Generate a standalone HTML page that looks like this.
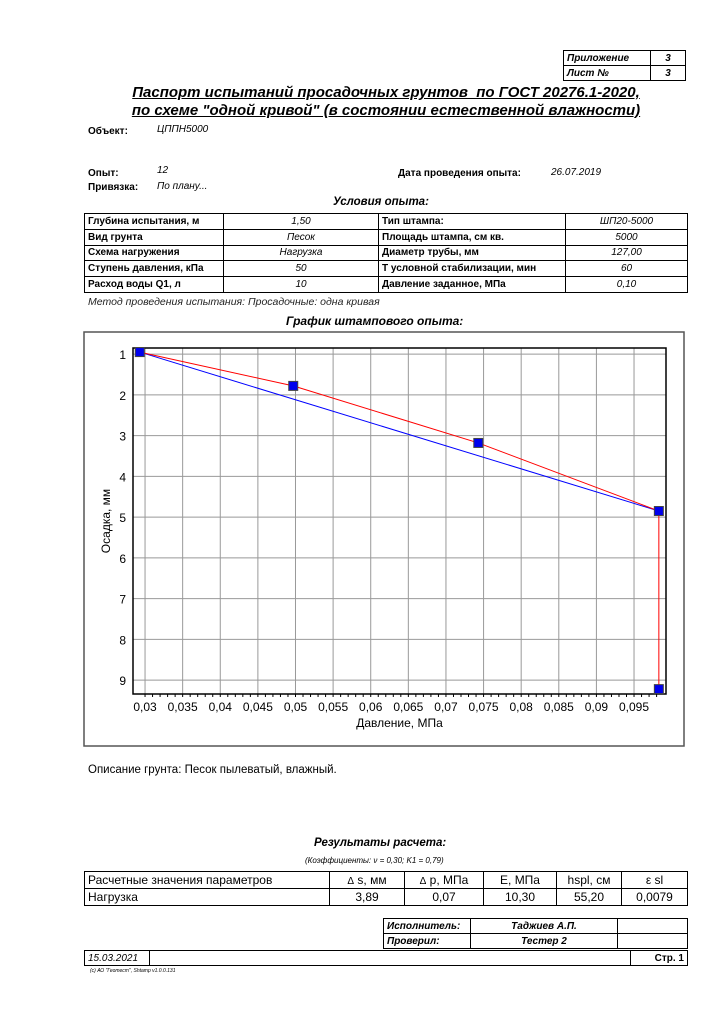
<!DOCTYPE html>
<html><head><meta charset="utf-8"><style>
body{margin:0;background:#fff;font-family:"Liberation Sans","DejaVu Sans",sans-serif;color:#000}
#page{position:relative;width:722px;height:1024px;overflow:hidden}
.a{position:absolute;white-space:nowrap}
.b{font-weight:bold;font-size:10px}
.i{font-style:italic;font-size:10px}
table{border-collapse:collapse;position:absolute}
td{border:1px solid #000;padding:0 3px;height:14px;font-size:9.5px}
#cond td{height:14.8px}
#res td{height:16px}
</style></head><body><div id="page">
<table style="left:563px;top:50px;width:123px">
<tr><td class="b i" style="width:80px;border-width:1.5px">Приложение</td><td class="b i" style="text-align:center;border-width:1.5px">3</td></tr>
<tr><td class="b i" style="border-width:1.5px">Лист №</td><td class="b i" style="text-align:center;border-width:1.5px">3</td></tr></table>
<div class="a" style="left:0;width:772px;top:84px;text-align:center;font-weight:bold;font-style:italic;font-size:15px;line-height:18px;text-decoration:underline">Паспорт испытаний просадочных грунтов &nbsp;по ГОСТ 20276.1-2020,<br>по схеме "одной кривой" (в состоянии естественной влажности)</div>
<div class="a b" style="left:88px;top:126px">Объект:</div>
<div class="a i" style="left:157px;top:124px">ЦППН5000</div>
<div class="a b" style="left:88px;top:168px">Опыт:</div>
<div class="a i" style="left:157px;top:165px">12</div>
<div class="a b" style="left:88px;top:182px">Привязка:</div>
<div class="a i" style="left:157px;top:181px">По плану...</div>
<div class="a b" style="left:398px;top:168px">Дата проведения опыта:</div>
<div class="a i" style="left:551px;top:167px">26.07.2019</div>
<div class="a" style="left:333px;top:196px;font-weight:bold;font-style:italic;font-size:11.5px">Условия опыта:</div>
<table id="cond" style="left:84px;top:213px;width:604px">
<tr><td class="b" style="width:132px">Глубина испытания, м</td><td class="i" style="text-align:center;width:148px">1,50</td><td class="b" style="width:180px">Тип штампа:</td><td class="i" style="text-align:center">ШП20-5000</td></tr>
<tr><td class="b">Вид грунта</td><td class="i" style="text-align:center">Песок</td><td class="b">Площадь штампа, см кв.</td><td class="i" style="text-align:center">5000</td></tr>
<tr><td class="b">Схема нагружения</td><td class="i" style="text-align:center">Нагрузка</td><td class="b">Диаметр трубы, мм</td><td class="i" style="text-align:center">127,00</td></tr>
<tr><td class="b">Ступень давления, кПа</td><td class="i" style="text-align:center">50</td><td class="b">T условной стабилизации, мин</td><td class="i" style="text-align:center">60</td></tr>
<tr><td class="b">Расход воды Q1, л</td><td class="i" style="text-align:center">10</td><td class="b">Давление заданное, МПа</td><td class="i" style="text-align:center">0,10</td></tr></table>
<div class="a" style="left:88px;top:296px;font-style:italic;font-size:10.5px;color:#222">Метод проведения испытания: Просадочные: одна кривая</div>
<div class="a" style="left:286px;top:314px;font-weight:bold;font-style:italic;font-size:12px">График штампового опыта:</div>
<svg class="a" style="left:0;top:0" width="722" height="1024" id="chart"></svg>
<div class="a" style="left:88px;top:764px;font-size:11.5px">Описание грунта: Песок пылеватый, влажный.</div>
<div class="a" style="left:314px;top:837px;font-weight:bold;font-style:italic;font-size:11.5px">Результаты расчета:</div>
<div class="a" style="left:305px;top:856px;font-style:italic;font-size:8px">(Коэффициенты: ν = 0,30; K1 = 0,79)</div>
<table id="res" style="left:84px;top:871px;width:604px;font-size:12px">
<tr><td style="width:238px;font-size:12px">Расчетные значения параметров</td><td style="text-align:center;width:68px;font-size:12px"><small>Δ</small> s, мм</td><td style="text-align:center;width:72px;font-size:12px"><small>Δ</small> p, МПа</td><td style="text-align:center;width:66px;font-size:12px">E, МПа</td><td style="text-align:center;width:58px;font-size:12px">hspl, см</td><td style="text-align:center;font-size:12px">ε sl</td></tr>
<tr><td style="font-size:12px">Нагрузка</td><td style="text-align:center;font-size:12px">3,89</td><td style="text-align:center;font-size:12px">0,07</td><td style="text-align:center;font-size:12px">10,30</td><td style="text-align:center;font-size:12px">55,20</td><td style="text-align:center;font-size:12px">0,0079</td></tr></table>
<table style="left:383px;top:918px;width:305px">
<tr><td class="b i" style="width:80px">Исполнитель:</td><td class="b i" style="text-align:center;width:140px">Таджиев А.П.</td><td></td></tr>
<tr><td class="b i">Проверил:</td><td class="b i" style="text-align:center">Тестер 2</td><td></td></tr></table>
<table style="left:84px;top:950px;width:604px">
<tr><td class="i" style="width:58px">15.03.2021</td><td></td><td class="b" style="width:50px;text-align:right">Стр. 1</td></tr></table>
<div class="a" style="left:90px;top:968px;font-style:italic;font-size:5px">(c) АО "Геотест", Shtamp v1.0.0.131</div>
</div>
<script>
const xTicks=[0.03,0.035,0.04,0.045,0.05,0.055,0.06,0.065,0.07,0.075,0.08,0.085,0.09,0.095];
const xTickLabels=["0,03","0,035","0,04","0,045","0,05","0,055","0,06","0,065","0,07","0,075","0,08","0,085","0,09","0,095"];
const yTicks=[1,2,3,4,5,6,7,8,9];
const pressure=[0.0293,0.0497,0.0743,0.0983,0.0983];
const settlement=[0.95,1.78,3.18,4.85,9.22];
const fitP=[0.0293,0.0983];
const fitS=[0.95,4.85];
const L=133,R=666,T=348,B=694,X0=0.0284,X1=0.09925,Y0=0.85,Y1=9.34;
const sx=v=>L+(v-X0)/(X1-X0)*(R-L), sy=v=>T+(v-Y0)/(Y1-Y0)*(B-T);
const svg=document.getElementById('chart');const NS='http://www.w3.org/2000/svg';
function mk(t,a,p){const e=document.createElementNS(NS,t);for(const k in a)e.setAttribute(k,a[k]);(p||svg).appendChild(e);return e;}
let e=mk('rect',{x:84,y:332,width:600,height:414,fill:'none',stroke:'#555','stroke-width':1.5});

for(let i=0;i<xTicks.length;i++){const x=sx(xTicks[i]);
 e=mk('line',{x1:x,x2:x,y1:T,y2:B,stroke:'#999'});
 e=mk('text',{x:x,y:B+17,'text-anchor':'middle','font-size':12,'font-family':'Liberation Sans'});e.textContent=xTickLabels[i];
 }
for(let v=0.03;v<0.099;v+=0.001){const x=sx(v);mk('line',{x1:x,x2:x,y1:B,y2:B+3,stroke:'#000'});}
for(const v of yTicks){const y=sy(v);
 e=mk('line',{x1:L,x2:R,y1:y,y2:y,stroke:'#999'});
 e=mk('text',{x:L-7,y:y+5,'text-anchor':'end','font-size':12,'font-family':'Liberation Sans'});e.textContent=v;
 }
e=mk('rect',{x:L,y:T,width:R-L,height:B-T,fill:'none',stroke:'#000','stroke-width':1.5});

e=mk('polyline',{points:fitP.map((p,i)=>sx(p)+','+sy(fitS[i])).join(' '),fill:'none',stroke:'#0000ff'});

e=mk('polyline',{points:pressure.map((p,i)=>sx(p)+','+sy(settlement[i])).join(' '),fill:'none',stroke:'#ff0000'});

for(let i=0;i<pressure.length;i++){e=mk('rect',{x:sx(pressure[i])-4.5,y:sy(settlement[i])-4.5,width:9,height:9,fill:'#0000ee',stroke:'#444'});
 }
e=mk('text',{x:(L+R)/2,y:727,'text-anchor':'middle','font-size':12,'font-family':'Liberation Sans'});e.textContent='Давление, МПа';

e=mk('text',{x:110,y:521,'text-anchor':'middle','font-size':12,'font-family':'Liberation Sans',transform:'rotate(-90 110 521)'});e.textContent='Осадка, мм';

</script></body></html>
